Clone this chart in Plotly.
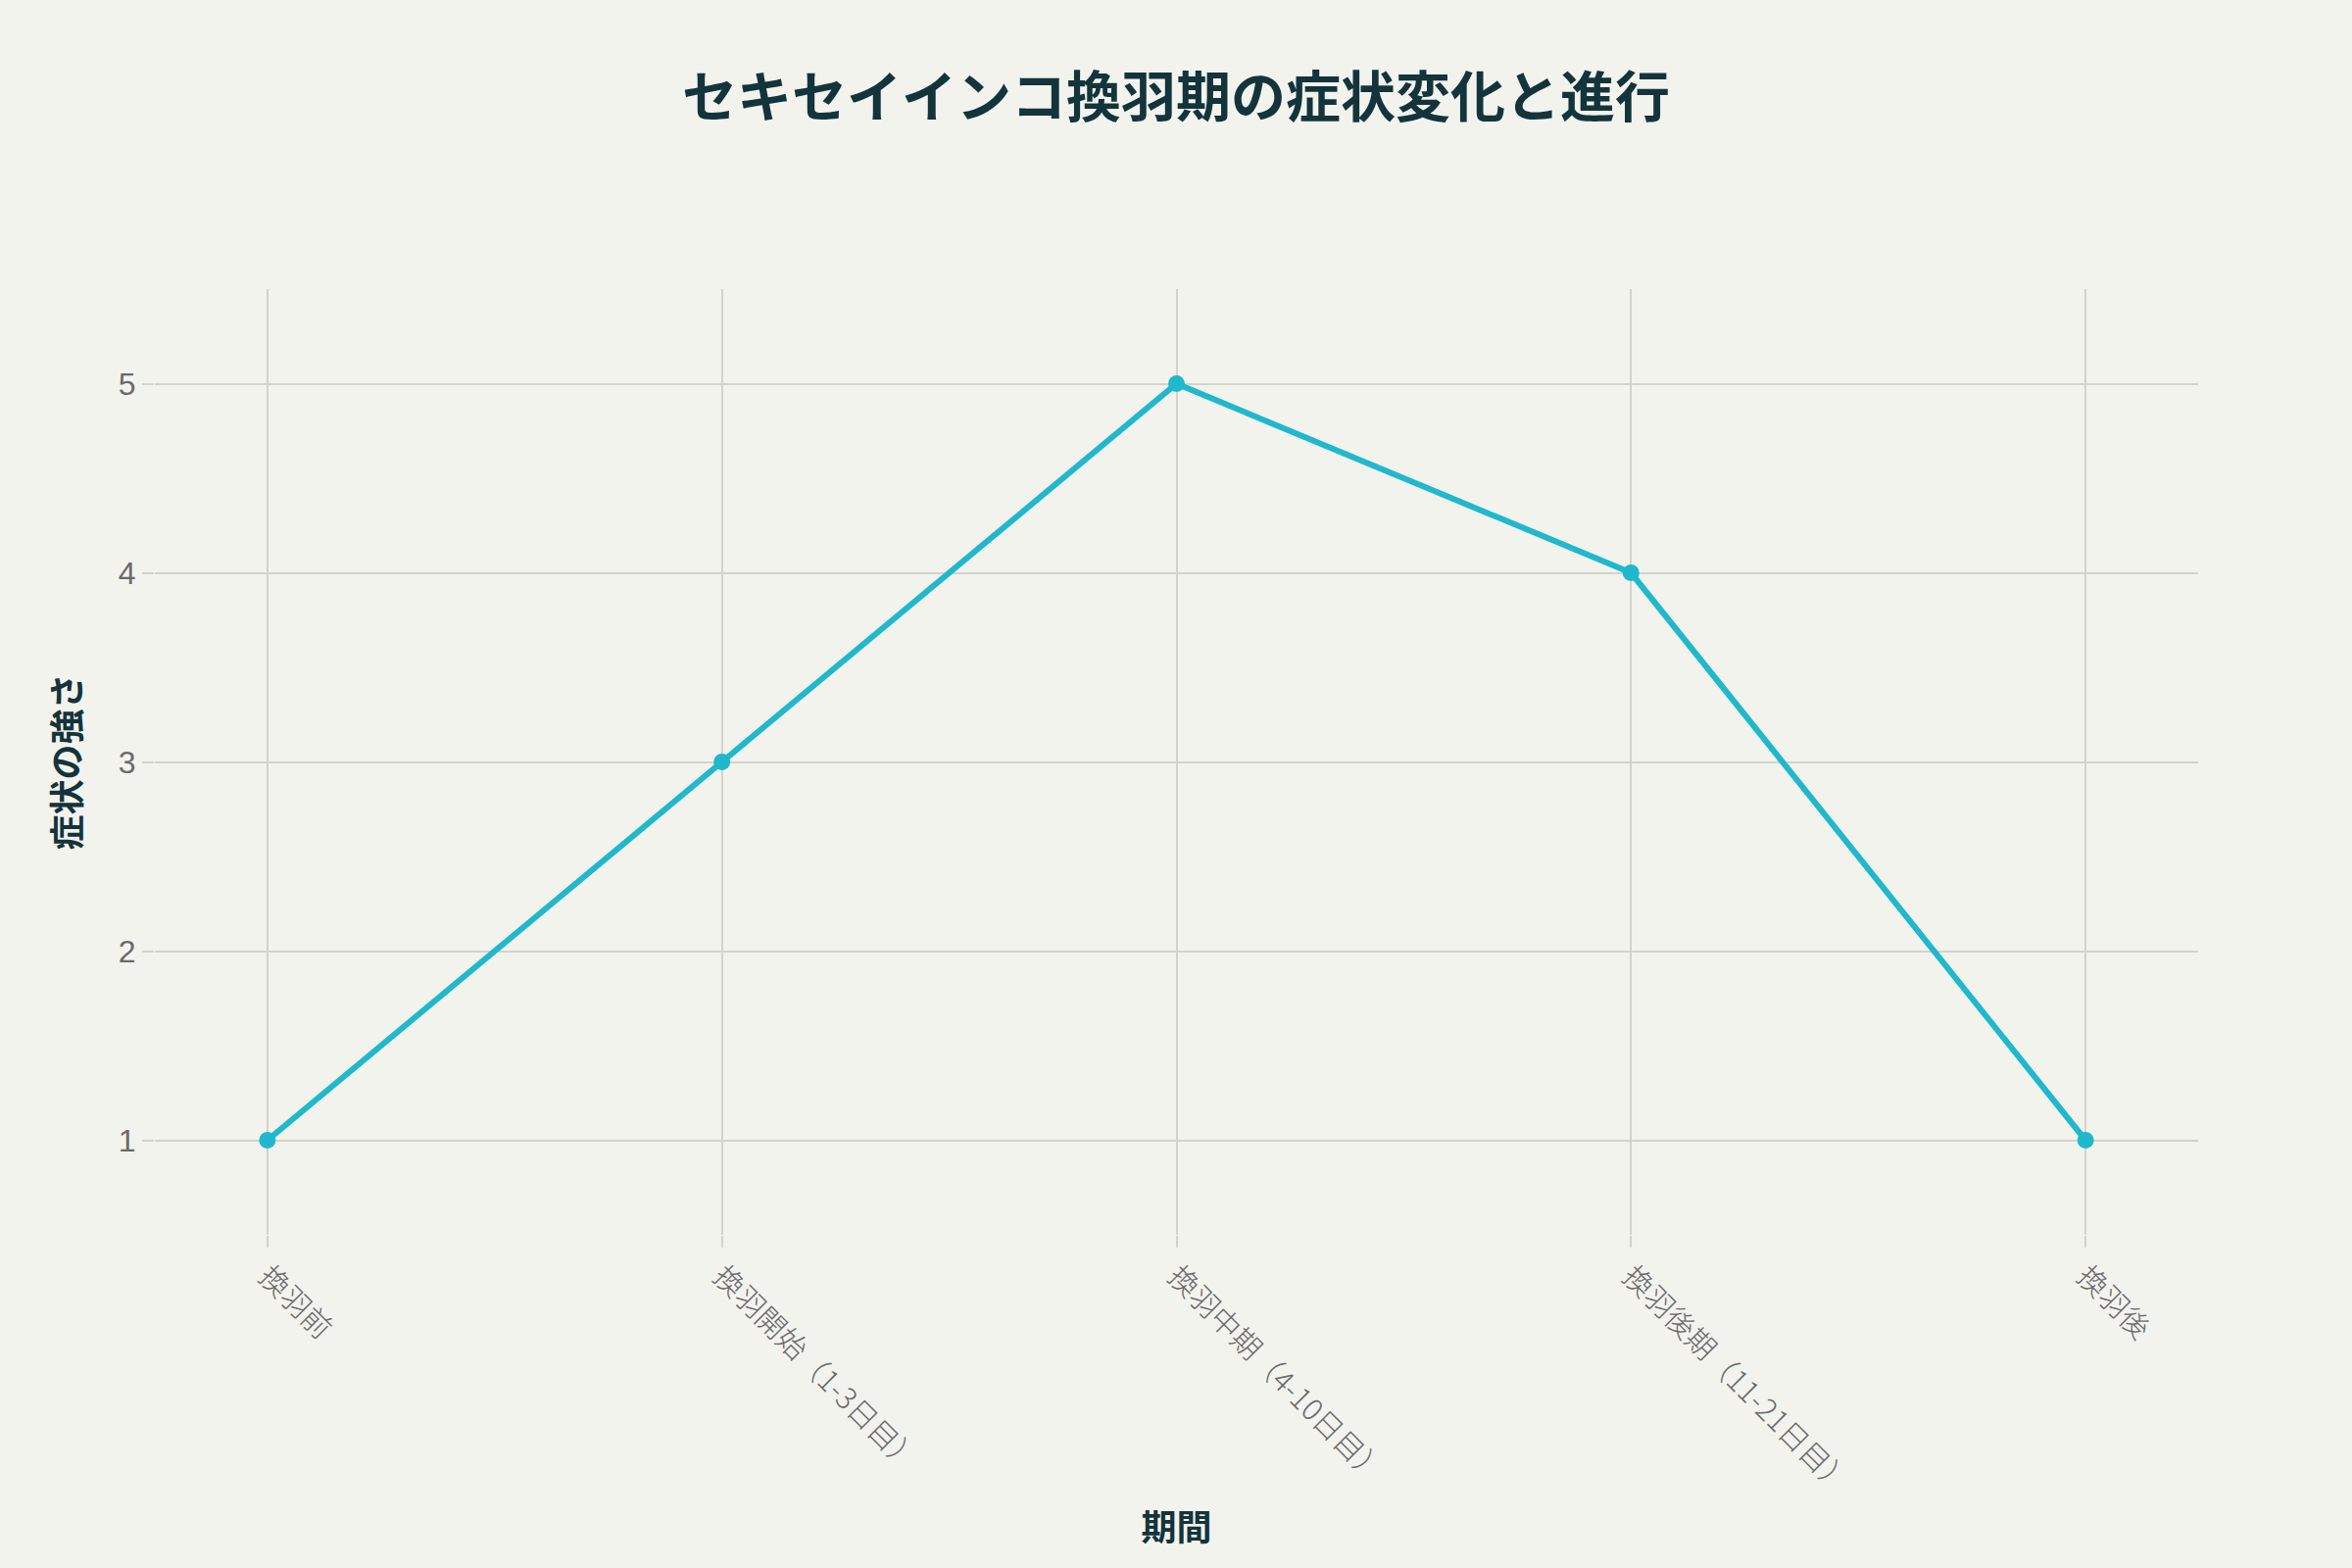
import plotly.graph_objects as go

periods = ["換羽前", "換羽開始（1-3日目）", "換羽中期（4-10日目）", "換羽後期（11-21日目）", "換羽後"]
severity = [1, 3, 5, 4, 1]
y_ticks = [1, 2, 3, 4, 5]

title_text = "セキセイインコ換羽期の症状変化と進行"
x_title = "期間"
y_title = "症状の強さ"

CJK = "Noto Sans CJK JP"
DARK = "#13343B"
GRID = "#D3D3CE"
TICK = "#6A6A6A"

fig = go.Figure()
fig.add_trace(go.Scatter(
    x=periods, y=severity, mode="lines+markers",
    line=dict(color="#1FB8CD", width=6),
    marker=dict(color="#1FB8CD", size=17),
    showlegend=False,
))

fig.update_layout(
    width=2400, height=1600,
    paper_bgcolor="#F3F3EE", plot_bgcolor="#F3F3EE",
    margin=dict(l=158, r=157, t=295, b=340),
    title=dict(text=title_text, x=0.5, xanchor="center", y=0.938, yanchor="middle",
               font=dict(family=CJK, size=56, color=DARK, weight="bold")),
    font=dict(family=CJK, color=TICK),
)
fig.update_xaxes(
    type="category", tickangle=45, automargin=True,
    tickfont=dict(family=CJK, size=30, color=TICK, weight=300),
    showgrid=True, gridcolor=GRID, gridwidth=2,
    ticks="outside", ticklen=12, tickcolor=GRID, tickwidth=2,
    showline=False, zeroline=False,
    title=dict(text=x_title, font=dict(family=CJK, size=36, color=DARK, weight="bold"), standoff=14),
)
fig.update_yaxes(
    range=[0.5, 5.5], tickvals=y_ticks, automargin=False,
    tickfont=dict(family="Liberation Sans", size=32, color=TICK),
    showgrid=True, gridcolor=GRID, gridwidth=2,
    ticks="outside", ticklen=12, tickcolor=GRID, tickwidth=2,
    showline=False, zeroline=False,
    title=dict(text=y_title, font=dict(family=CJK, size=36, color=DARK, weight="bold"), standoff=27),
)

fig.write_html("out.html", config={"displayModeBar": False},
               post_script="document.body.style.margin='0';")
